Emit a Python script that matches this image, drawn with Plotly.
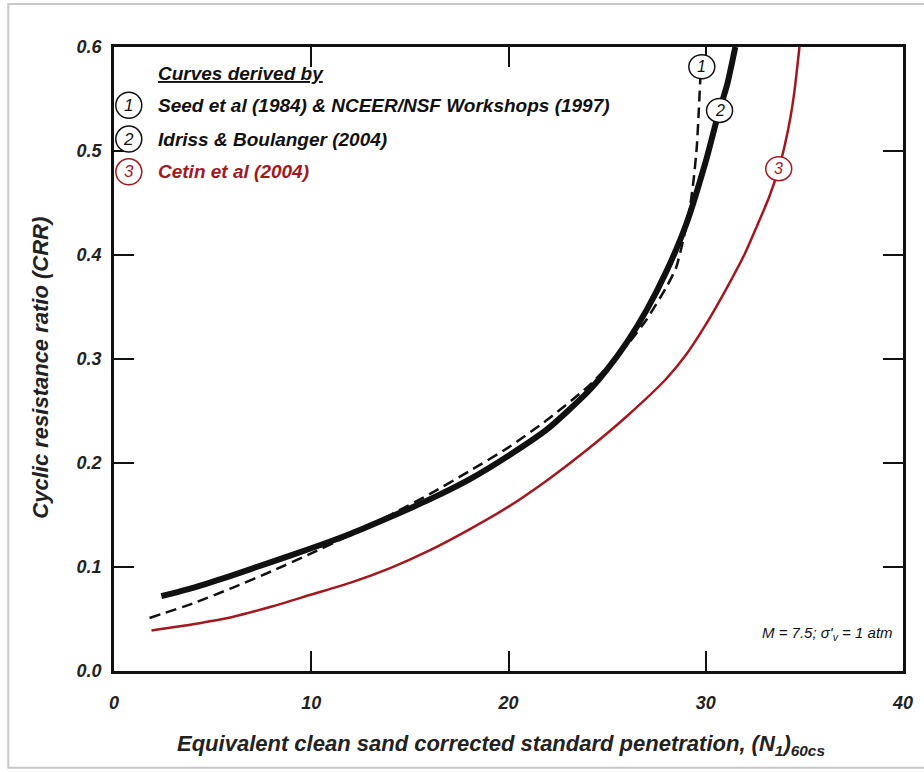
import plotly.graph_objects as go

# ---- data ----
# Curve 1: Seed et al (1984) & NCEER/NSF Workshops (1997) - dashed
n_seed = [1.8, 4, 6, 8, 10, 12, 14, 16, 18, 20, 22, 24, 25, 26, 27, 28, 28.5, 28.9, 29.2, 29.4, 29.55, 29.65, 29.75]
crr_seed = [0.051, 0.065, 0.080, 0.096, 0.113, 0.131, 0.150, 0.170, 0.192, 0.215, 0.242, 0.273, 0.292, 0.313, 0.338, 0.369, 0.388, 0.418, 0.446, 0.475, 0.505, 0.54, 0.58]

# Curve 2: Idriss & Boulanger (2004) - thick solid
n_ib = [2.4, 4, 6, 8, 10, 12, 14, 16, 18, 20, 22, 24, 25, 26, 27, 28, 29, 30, 30.6, 31.1, 31.5]
crr_ib = [0.072, 0.080, 0.092, 0.105, 0.118, 0.132, 0.148, 0.165, 0.184, 0.207, 0.233, 0.268, 0.290, 0.316, 0.347, 0.384, 0.429, 0.49, 0.533, 0.565, 0.60]

# Curve 3: Cetin et al (2004) - red
n_cetin = [1.9, 4, 6, 8, 10, 12, 14, 16, 18, 20, 22, 24, 26, 28, 29, 30, 31, 32, 32.6, 33.2, 33.7, 34.0, 34.3, 34.5, 34.75]
crr_cetin = [0.039, 0.045, 0.052, 0.062, 0.0735, 0.085, 0.099, 0.116, 0.136, 0.158, 0.184, 0.213, 0.245, 0.281, 0.304, 0.333, 0.366, 0.402, 0.428, 0.455, 0.483, 0.505, 0.533, 0.558, 0.60]

x_dtick = 10
y_dtick = 0.1

legend_title = "Curves derived by"
legend_nums = ["1", "2", "3"]
legend_texts = ["Seed et al (1984) & NCEER/NSF Workshops (1997)",
                "Idriss & Boulanger (2004)",
                "Cetin et al (2004)"]
legend_y = [0.544, 0.5115, 0.48]

curve_label_pos = [(29.8, 0.581), (30.7, 0.539), (33.7, 0.483)]

RED = "#A3181E"
BLACK = "#111111"
colors = [BLACK, BLACK, RED]

fig = go.Figure()
fig.add_trace(go.Scatter(x=n_seed, y=crr_seed, mode="lines",
                         line=dict(color=BLACK, width=2.5, dash="11px,6px", shape="spline", smoothing=0.6),
                         showlegend=False))
fig.add_trace(go.Scatter(x=n_ib, y=crr_ib, mode="lines",
                         line=dict(color=BLACK, width=6, shape="spline", smoothing=0.6), showlegend=False))
fig.add_trace(go.Scatter(x=n_cetin, y=crr_cetin, mode="lines",
                         line=dict(color=RED, width=2.5, shape="spline", smoothing=0.6), showlegend=False))

shapes = []
annotations = []

# circled labels on curves
for (nx, ny), num, c in zip(curve_label_pos, legend_nums, colors):
    shapes.append(dict(type="circle", xref="x", yref="y", xsizemode="pixel", ysizemode="pixel",
                       xanchor=nx, yanchor=ny, x0=-13, x1=13, y0=-12, y1=12,
                       fillcolor="white", line=dict(color=c, width=1.5), layer="above"))
    annotations.append(dict(x=nx, y=ny, xref="x", yref="y", text="<i>" + num + "</i>",
                            showarrow=False, font=dict(family="Arial", size=16, color=c)))

# legend block
annotations.append(dict(x=2.15, y=0.575, xref="x", yref="y", xanchor="left", yanchor="middle",
                        text="<u><b><i>" + legend_title + "</i></b></u>", showarrow=False,
                        font=dict(family="Arial", size=19, color=BLACK)))
for ly, num, txt, c in zip(legend_y, legend_nums, legend_texts, colors):
    shapes.append(dict(type="circle", xref="x", yref="y", xsizemode="pixel", ysizemode="pixel",
                       xanchor=0.75, yanchor=ly, x0=-13, x1=13, y0=-13, y1=13,
                       fillcolor="white", line=dict(color=c, width=1.5), layer="above"))
    annotations.append(dict(x=0.75, y=ly, xref="x", yref="y", text="<i>" + num + "</i>",
                            showarrow=False, font=dict(family="Arial", size=17, color=c)))
    annotations.append(dict(x=2.15, y=ly, xref="x", yref="y", xanchor="left", yanchor="middle",
                            text="<b><i>" + txt + "</i></b>", showarrow=False,
                            font=dict(family="Arial", size=19, color=c)))

# note
annotations.append(dict(x=0.99, y=0.06, xref="paper", yref="paper", xanchor="right", yanchor="middle",
                        text="<i>M = 7.5; σ'<sub>v</sub> = 1 atm</i>", showarrow=False,
                        font=dict(family="Arial", size=15, color=BLACK)))

# axis titles
annotations.append(dict(x=-0.0926, y=0.486, xref="paper", yref="paper", textangle=-90,
                        xanchor="center", yanchor="middle",
                        text="<b><i>Cyclic resistance ratio (CRR)</i></b>", showarrow=False,
                        font=dict(family="Arial", size=22, color="#222222")))
annotations.append(dict(x=0.49, y=-0.119, xref="paper", yref="paper",
                        xanchor="center", yanchor="middle",
                        text="<b><i>Equivalent clean sand corrected standard penetration, (N<sub>1</sub>)<sub>60cs</sub></i></b>",
                        showarrow=False, font=dict(family="Arial", size=22, color="#222222")))

# outer frame
shapes.append(dict(type="rect", xref="paper", yref="paper", x0=-0.134, x1=1.03, y0=-0.155, y1=1.069,
                   line=dict(color="#C8C8C8", width=2), fillcolor="rgba(0,0,0,0)", layer="below"))

tickfont = dict(family="Arial", size=18, color="#222222", weight="bold", style="italic")

fig.update_layout(
    width=924, height=772,
    margin=dict(l=114, r=11, t=47, b=101),
    paper_bgcolor="white", plot_bgcolor="white",
    shapes=shapes, annotations=annotations,
)
fig.update_xaxes(range=[0, 40], tickmode="linear", tick0=0, dtick=x_dtick, tickformat="d",
                 showgrid=False, zeroline=False, showline=True, linecolor=BLACK, linewidth=2.5,
                 mirror="ticks", ticks="inside", ticklen=20, tickwidth=2, tickcolor=BLACK,
                 tickfont=tickfont, ticklabelstandoff=14)
fig.update_yaxes(range=[0, 0.6], tickmode="linear", tick0=0, dtick=y_dtick, tickformat=".1f",
                 showgrid=False, zeroline=False, showline=True, linecolor=BLACK, linewidth=2.5,
                 mirror="ticks", ticks="inside", ticklen=20, tickwidth=2, tickcolor=BLACK,
                 tickfont=tickfont, ticklabelstandoff=6)

fig.write_html("out.html")
